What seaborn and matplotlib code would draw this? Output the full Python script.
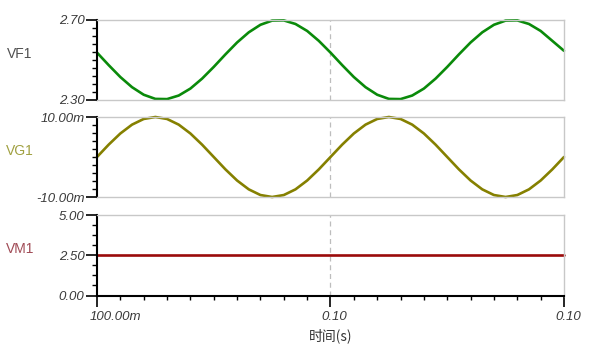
import matplotlib
matplotlib.use("Agg")
import matplotlib.pyplot as plt
import matplotlib.transforms as mtransforms
from matplotlib.ticker import FixedLocator
import seaborn as sns
import pandas as pd

# ---------------- data ----------------
time_s = [0.100000, 0.100005, 0.100010, 0.100015, 0.100020, 0.100025, 0.100030,
          0.100035, 0.100040, 0.100045, 0.100050, 0.100055, 0.100060, 0.100065,
          0.100070, 0.100075, 0.100080, 0.100085, 0.100090, 0.100095, 0.100100,
          0.100105, 0.100110, 0.100115, 0.100120, 0.100125, 0.100130, 0.100135,
          0.100140, 0.100145, 0.100150, 0.100155, 0.100160, 0.100165, 0.100170,
          0.100175, 0.100180, 0.100185, 0.100190, 0.100195, 0.100200]

vf1 = [2.536, 2.473, 2.413, 2.362, 2.324, 2.303, 2.302, 2.320, 2.355, 2.405,
       2.464, 2.527, 2.587, 2.638, 2.676, 2.697, 2.698, 2.680, 2.645, 2.595,
       2.536, 2.473, 2.413, 2.362, 2.324, 2.303, 2.302, 2.320, 2.355, 2.405,
       2.464, 2.527, 2.587, 2.638, 2.676, 2.697, 2.698, 2.680, 2.645, 2.595,
       2.545]

vg1_mV = [0.0, 3.09, 5.88, 8.09, 9.51, 10.0, 9.51, 8.09, 5.88, 3.09,
          0.0, -3.09, -5.88, -8.09, -9.51, -10.0, -9.51, -8.09, -5.88, -3.09,
          0.0, 3.09, 5.88, 8.09, 9.51, 10.0, 9.51, 8.09, 5.88, 3.09,
          0.0, -3.09, -5.88, -8.09, -9.51, -10.0, -9.51, -8.09, -5.88, -3.09,
          0.0]

vm1 = [2.50, 2.50, 2.50, 2.50, 2.50, 2.50, 2.50, 2.50, 2.50, 2.50,
       2.50, 2.50, 2.50, 2.50, 2.50, 2.50, 2.50, 2.50, 2.50, 2.50,
       2.50, 2.50, 2.50, 2.50, 2.50, 2.50, 2.50, 2.50, 2.50, 2.50,
       2.50, 2.50, 2.50, 2.50, 2.50, 2.50, 2.50, 2.50, 2.50, 2.50,
       2.50]

signal_names = ["VF1", "VG1", "VM1"]
signal_colors = ["#0a8a0a", "#858000", "#9a0a0a"]
label_colors = ["#505050", "#a0a040", "#a04a55"]

y_limits = [(2.30, 2.70), (-10.0, 10.0), (0.0, 5.0)]
y_major = [[2.30, 2.70], [-10.0, 10.0], [0.0, 2.50, 5.0]]
y_major_labels = [["2.30", "2.70"], ["-10.00m", "10.00m"], ["0.00", "2.50", "5.00"]]
y_minor_step = [0.04, 2.0, 0.625]

x_ticks = [0.1000, 0.1001, 0.1002]
x_tick_labels = ["100.00m", "0.10", "0.10"]
x_label = "时间(s)"

# ---------------- build table ----------------
df = pd.concat([
    pd.DataFrame({"time": time_s, "value": vf1, "signal": "VF1"}),
    pd.DataFrame({"time": time_s, "value": vg1_mV, "signal": "VG1"}),
    pd.DataFrame({"time": time_s, "value": vm1, "signal": "VM1"}),
], ignore_index=True)

sns.set_style("white")
plt.rcParams["font.family"] = ["Liberation Sans", "Noto Sans CJK SC", "DejaVu Sans"]

W, H = 589, 361
fig = plt.figure(figsize=(W / 100, H / 100), dpi=100)

left_px, right_px = 97, 564
panels_px = [(20, 99.5), (117, 197), (215, 295.5)]

grey = "#c8c8c8"
tick_txt = "#3a3a3a"

for i, (top, bot) in enumerate(panels_px):
    ax = fig.add_axes([left_px / W, 1 - bot / H, (right_px - left_px) / W, (bot - top) / H])
    sub = df[df["signal"] == signal_names[i]]
    sns.lineplot(data=sub, x="time", y="value", color=signal_colors[i],
                 linewidth=1.9, ax=ax, legend=False)
    for ln in ax.get_lines():
        ln.set_clip_on(False)
    ax.set_xlim(0.1000, 0.1002)
    ax.set_ylim(*y_limits[i])
    ax.set_xlabel("")
    ax.set_ylabel("")

    # spines
    for s in ["top", "right", "bottom"]:
        ax.spines[s].set_color(grey)
        ax.spines[s].set_linewidth(1.0)
    ax.spines["left"].set_color("black")
    ax.spines["left"].set_linewidth(1.5)

    # dashed vertical marker
    ax.axvline(0.1001, color="#bdbdbd", linestyle=(0, (4, 3)), linewidth=0.9, zorder=0)

    # y ticks
    lo, hi = y_limits[i]
    step = y_minor_step[i]
    n = int(round((hi - lo) / step))
    minors = [lo + k * step for k in range(n + 1)]
    ax.yaxis.set_major_locator(FixedLocator(y_major[i]))
    ax.set_yticklabels(y_major_labels[i])
    ax.yaxis.set_minor_locator(FixedLocator(minors))
    ax.tick_params(axis="y", which="major", left=True, length=8, width=1.2,
                   color="black", pad=1, labelsize=9.5, labelcolor=tick_txt)
    ax.tick_params(axis="y", which="minor", left=True, length=3.5, width=1.0, color="black")
    for t in ax.get_yticklabels():
        t.set_fontstyle("italic")

    # series name
    fig.text(20 / W, 1 - ((top + bot) / 2 - 6) / H, signal_names[i], color=label_colors[i],
             fontsize=10, ha="center", va="center")

    if i < 2:
        ax.set_xticks([])
        ax.tick_params(axis="x", which="both", bottom=False, labelbottom=False)
    else:
        ax.spines["bottom"].set_color("black")
        ax.spines["bottom"].set_linewidth(1.5)
        ax.xaxis.set_major_locator(FixedLocator(x_ticks))
        ax.set_xticklabels(x_tick_labels)
        xm = [0.1000 + k * 0.00001 for k in range(21)]
        ax.xaxis.set_minor_locator(FixedLocator(xm))
        ax.tick_params(axis="x", which="major", bottom=True, length=8, width=1.2,
                       color="black", pad=3, labelsize=9.5, labelcolor=tick_txt)
        ax.tick_params(axis="x", which="minor", bottom=True, length=3, width=1.0, color="black")
        labs = ax.get_xticklabels()
        for t in labs:
            t.set_fontstyle("italic")
        labs[0].set_ha("left")
        labs[0].set_transform(labs[0].get_transform() +
                              mtransforms.ScaledTranslation(-7 / 100, 0, fig.dpi_scale_trans))
        for t in labs[1:]:
            t.set_transform(t.get_transform() +
                            mtransforms.ScaledTranslation(4 / 100, 0, fig.dpi_scale_trans))
        ax.set_xlabel(x_label, fontsize=10, color="#333333", labelpad=4,
                      family=["Noto Sans CJK SC", "DejaVu Sans"])

fig.savefig("out.png", dpi=100)
